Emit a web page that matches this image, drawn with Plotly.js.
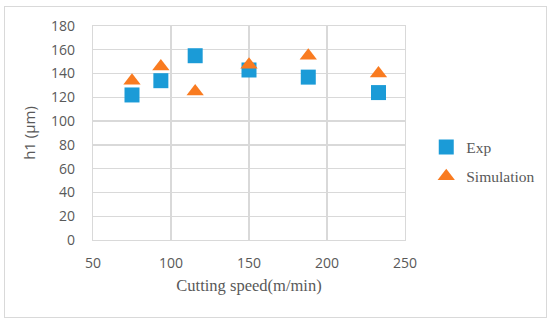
<!DOCTYPE html>
<html>
<head>
<meta charset="utf-8">
<script src="https://cdn.plot.ly/plotly-3.0.1.min.js"></script>
<style>
html,body{margin:0;padding:0;background:#fff;}
#wrap{position:relative;width:550px;height:322px;}
#chart{width:550px;height:322px;}
#frame{position:absolute;left:4px;top:6px;width:541px;height:310px;border:1px solid #d9d9d9;pointer-events:none;}
</style>
</head>
<body>
<div id="wrap"><div id="chart"></div><div id="frame"></div></div>
<script>
const speedExp = [75, 93.5, 115.5, 150, 188, 233];
const h1Exp = [122, 134, 155, 143, 137, 124];
const speedSim = [75, 93.5, 115.5, 150, 188, 233];
const h1Sim = [134, 146, 125, 147.5, 155, 140];
const xTicks = [50, 100, 150, 200, 250];
const yTicks = [0, 20, 40, 60, 80, 100, 120, 140, 160, 180];

const traces = [
  {x: speedExp, y: h1Exp, type: 'scatter', mode: 'markers', name: 'Exp', legendgroup: 'a',
   marker: {symbol: 'square', size: 15, color: '#1b9bd7'}},
  {x: speedSim, y: h1Sim, type: 'scatter', mode: 'markers', name: 'Simulation', legendgroup: 'b',
   marker: {symbol: 'triangle-up', size: 15, color: '#f97b20'}}
];

const layout = {
  width: 550, height: 322,
  margin: {l: 93, r: 145, t: 26, b: 82},
  paper_bgcolor: '#fff', plot_bgcolor: '#fff',
  showlegend: true,
  legend: {xref: 'container', yref: 'container', x: 0.775, y: 0.595, xanchor: 'left', yanchor: 'top',
           tracegroupgap: 6, traceorder: 'grouped', itemwidth: 30,
           font: {family: 'Liberation Serif', size: 15.5, color: '#595959'}},
  xaxis: {range: [50, 250], tickvals: xTicks, ticktext: xTicks.map(String),
          showgrid: true, gridcolor: '#d9d9d9', gridwidth: 1.3, zeroline: false,
          showline: true, linecolor: '#d9d9d9', linewidth: 1.3, mirror: true,
          ticks: '', ticklabelstandoff: 10,
          tickfont: {family: 'Open Sans', size: 14, color: '#595959'},
          title: {text: 'Cutting speed(m/min)', standoff: 8,
                  font: {family: 'Liberation Serif', size: 16.5, color: '#595959'}}},
  yaxis: {range: [0, 180], tickvals: yTicks, ticktext: yTicks.map(String),
          showgrid: true, gridcolor: '#d9d9d9', gridwidth: 1.3, zeroline: false,
          showline: true, linecolor: '#d9d9d9', linewidth: 1.3, mirror: true,
          ticks: '', ticklabelstandoff: 14,
          tickfont: {family: 'Open Sans', size: 14, color: '#595959'},
          title: {text: 'h1 (μm)', standoff: 11,
                  font: {family: 'Open Sans', size: 15, color: '#595959'}}}
};

Plotly.newPlot('chart', traces, layout, {displayModeBar: false, staticPlot: true});
</script>
</body>
</html>
